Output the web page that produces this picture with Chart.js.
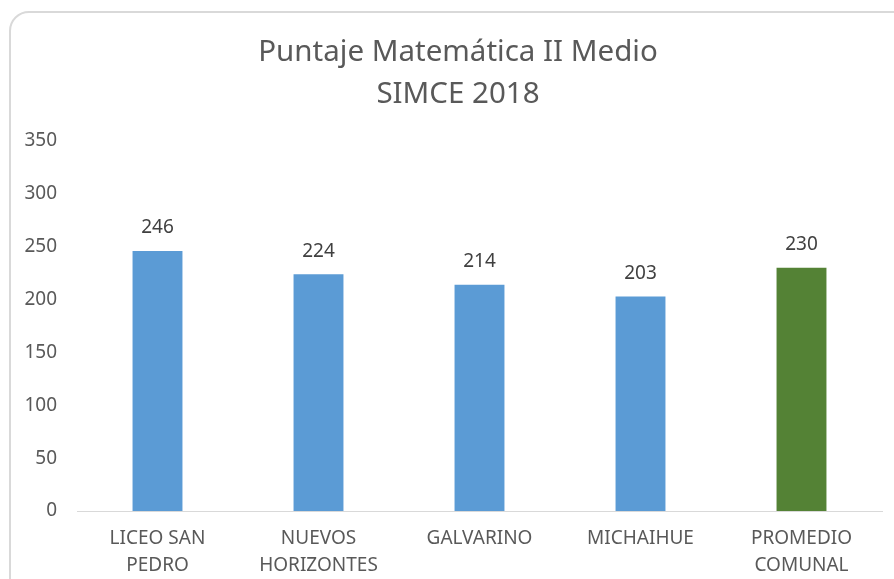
<!DOCTYPE html>
<html>
<head>
<meta charset="utf-8">
<script src="https://cdn.jsdelivr.net/npm/chart.js@4"></script>
<style>
  html, body { margin: 0; padding: 0; background: #fff; overflow: hidden; }
  #frame { position: absolute; left: 9px; top: 11px; width: 910px; height: 600px; border: 2px solid #d9d9d9; border-radius: 20px; box-sizing: border-box; }
  #wrap { position: absolute; left: 0; top: 0; width: 894px; height: 579px; }
</style>
</head>
<body>
<div id="frame"></div>
<div id="wrap"><canvas id="chart" width="894" height="579"></canvas></div>
<script>
const categories = [["LICEO SAN", "PEDRO"], ["NUEVOS", "HORIZONTES"], "GALVARINO", "MICHAIHUE", ["PROMEDIO", "COMUNAL"]];
const scores = [246, 224, 214, 203, 230];
const barColors = ["#5b9bd5", "#5b9bd5", "#5b9bd5", "#5b9bd5", "#548235"];
const titleLines = ["Puntaje Matemática II Medio", "SIMCE 2018"];

const FONT = "'Noto Sans', 'Open Sans', sans-serif";
const GRAY = "#595959";

// title is centred on the outer frame, not on the canvas, so draw it here
const frameTitle = {
  id: "frameTitle",
  afterDraw(chart) {
    const ctx = chart.ctx;
    ctx.save();
    ctx.font = "29.5px " + FONT;
    ctx.fillStyle = GRAY;
    ctx.textAlign = "center";
    ctx.textBaseline = "middle";
    titleLines.forEach((t, i) => ctx.fillText(t, 458, 53 + i * 42));
    ctx.restore();
  }
};

const valueLabels = {
  id: "valueLabels",
  afterDatasetsDraw(chart) {
    const ctx = chart.ctx;
    const meta = chart.getDatasetMeta(0);
    ctx.save();
    ctx.font = "19px " + FONT;
    ctx.fillStyle = "#404040";
    ctx.textAlign = "center";
    ctx.textBaseline = "middle";
    meta.data.forEach((bar, i) => {
      ctx.fillText(String(scores[i]), bar.x, bar.y - 23);
    });
    ctx.restore();
  }
};

new Chart(document.getElementById("chart"), {
  type: "bar",
  data: {
    labels: categories,
    datasets: [{ data: scores, backgroundColor: barColors, barPercentage: 0.31, categoryPercentage: 1 }]
  },
  options: {
    responsive: false,
    animation: false,
    layout: { padding: { left: 0, right: 12, top: 141, bottom: -14 } },
    plugins: {
      legend: { display: false },
      tooltip: { enabled: false },
      title: { display: false }
    },
    scales: {
      y: {
        min: 0, max: 350,
        ticks: { stepSize: 50, color: GRAY, font: { family: FONT, size: 19 }, padding: 20 },
        grid: { display: false, drawTicks: false },
        border: { display: false },
        afterFit(scale) { scale.width = 77; }
      },
      x: {
        ticks: { color: GRAY, font: { family: FONT, size: 19, lineHeight: 1.42 }, padding: 14, maxRotation: 0 },
        grid: { display: false, drawTicks: false },
        border: { display: true, color: "#d9d9d9", width: 1 }
      }
    }
  },
  plugins: [valueLabels, frameTitle]
});
</script>
</body>
</html>
